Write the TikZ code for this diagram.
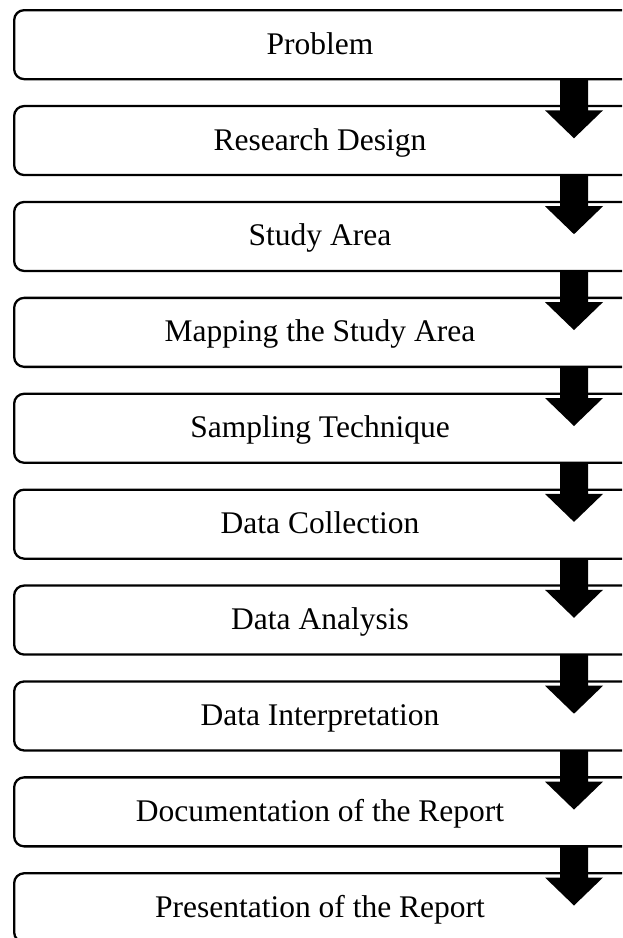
\documentclass[tikz,border=0pt]{standalone}
\usepackage{fontspec}
\setmainfont{Liberation Serif}
\begin{document}
\begin{tikzpicture}[x=1pt,y=-1pt,
  stepbox/.style={draw=black, line width=2.3pt, rounded corners=10pt,
    minimum width=640pt, minimum height=69pt, inner sep=0pt, anchor=north west},
  steptext/.style={inner sep=0pt, anchor=base, yshift=-9.5pt, font=\fontsize{31.5}{38}\selectfont},
  downarrow/.pic={\fill[black] (-14,-1) -- (14,-1) -- (14,30) -- (29,30) -- (0,58) -- (-29,30) -- (-14,30) -- cycle;}
]
\useasboundingbox (0,0) rectangle (622,938);
\clip (0,0) rectangle (622,938);
\fill[white] (0,0) rectangle (622,938);
\coordinate (tx) at (320,0);
\coordinate (ax) at (574,0);
\foreach \i/\t in {1/Problem,2/Research Design,3/Study Area,4/Mapping the Study Area,5/Sampling Technique,6/Data Collection,7/Data Analysis,8/Data Interpretation,9/Documentation of the Report,10/Presentation of the Report}{
  \node[stepbox] (b\i) at (13,{9+95.9*(\i-1)}) {};
  \node[steptext] (t\i) at (b\i.center -| tx) {\t};
}
\foreach \i in {1,...,9}{
  \pic at (b\i.south -| ax) {downarrow};
}
\end{tikzpicture}
\end{document}
